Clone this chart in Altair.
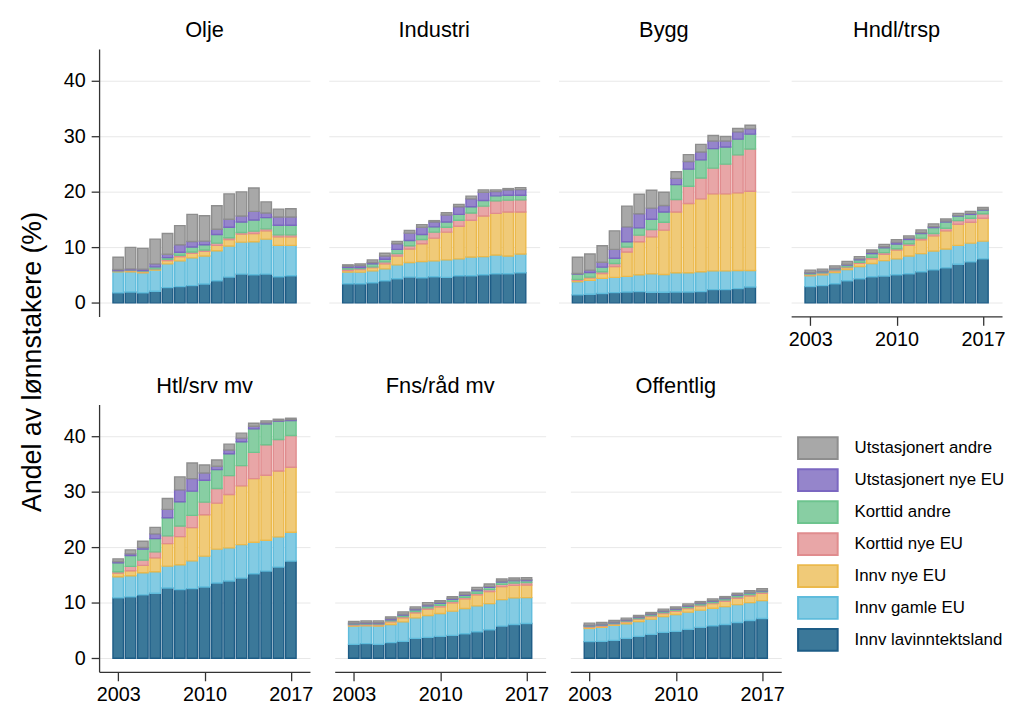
import altair as alt
import pandas as pd

years = list(range(2003, 2018))
series = ["Innv lavinntektsland", "Innv gamle EU", "Innv nye EU", "Korttid nye EU",
          "Korttid andre", "Utstasjonert nye EU", "Utstasjonert andre"]
legend_order = series[::-1]
fill_colors = ["#a8a8a8", "#9585cb", "#88cea3", "#e8a6a7", "#f0ca78", "#83cbe3", "#3b7899"]
stroke_colors = ["#8e8e8e", "#7b67c1", "#6dc48e", "#e08c8e", "#ebb94c", "#5fbcdc", "#1d5c86"]

# Cumulative stack tops (%), bottom layer first
olje = [
    [1.79, 1.96, 1.79, 2.08, 2.74, 2.92, 3.10, 3.39, 3.99, 4.64, 5.18, 5.06, 5.18, 4.70, 4.88],
    [5.60, 5.60, 5.42, 5.89, 7.02, 7.56, 8.10, 8.45, 9.40, 10.24, 10.95, 11.01, 11.49, 10.36, 10.36],
    [5.71, 5.83, 5.65, 6.07, 7.62, 8.33, 8.93, 9.29, 10.36, 11.43, 12.38, 12.50, 12.98, 11.90, 11.90],
    [5.77, 5.89, 5.71, 6.13, 7.86, 8.57, 9.17, 9.52, 10.77, 11.73, 12.68, 12.92, 13.33, 12.26, 12.26],
    [5.83, 5.95, 5.83, 6.49, 8.15, 9.11, 10.06, 10.48, 12.32, 13.63, 14.58, 14.94, 15.36, 13.99, 13.99],
    [6.01, 6.13, 6.07, 7.02, 8.75, 10.48, 11.07, 11.13, 13.27, 15.06, 15.65, 16.49, 16.19, 15.48, 15.48],
    [8.21, 10.00, 9.82, 11.49, 12.50, 13.93, 15.95, 15.71, 17.50, 19.64, 20.00, 20.71, 18.21, 16.90, 16.96],
]
industri = [
    [3.45, 3.45, 3.63, 3.99, 4.35, 4.64, 4.52, 4.70, 4.58, 4.88, 4.88, 5.06, 5.24, 5.24, 5.42],
    [5.54, 5.54, 5.77, 6.13, 6.85, 7.26, 7.44, 7.56, 7.74, 7.92, 8.27, 8.33, 8.63, 8.45, 8.81],
    [5.83, 6.01, 6.37, 7.02, 8.45, 9.70, 10.65, 11.67, 12.74, 13.81, 14.88, 15.65, 16.13, 16.37, 16.37],
    [6.07, 6.19, 6.49, 7.38, 8.87, 10.30, 11.43, 12.74, 13.63, 14.88, 16.19, 17.44, 18.39, 18.51, 18.57],
    [6.37, 6.37, 7.02, 7.86, 9.64, 11.25, 12.32, 13.69, 14.58, 15.95, 17.32, 18.45, 19.29, 19.40, 19.40],
    [6.61, 6.73, 7.26, 8.45, 10.65, 12.56, 13.63, 14.58, 15.83, 17.32, 18.75, 19.94, 20.06, 20.36, 20.42],
    [6.85, 7.02, 7.74, 8.93, 11.07, 13.04, 14.11, 14.82, 16.25, 17.74, 19.23, 20.36, 20.36, 20.60, 20.77],
]
bygg = [
    [1.43, 1.55, 1.67, 1.85, 1.96, 2.02, 1.90, 1.90, 1.96, 1.96, 2.02, 2.38, 2.38, 2.56, 2.86],
    [3.81, 4.05, 4.40, 4.58, 4.76, 5.06, 5.24, 5.12, 5.42, 5.42, 5.60, 5.77, 5.77, 5.83, 5.83],
    [4.05, 4.52, 5.30, 6.55, 9.17, 11.01, 11.90, 13.10, 16.37, 17.92, 18.75, 19.64, 19.64, 19.82, 20.12],
    [4.23, 4.64, 5.60, 7.08, 10.06, 12.20, 13.21, 14.52, 18.63, 21.01, 22.50, 24.29, 25.00, 26.67, 27.74],
    [5.18, 5.48, 6.43, 8.04, 11.01, 13.51, 15.06, 16.37, 21.31, 24.11, 25.77, 27.80, 28.10, 29.52, 30.42],
    [5.30, 5.89, 7.32, 9.64, 13.69, 16.07, 17.08, 17.56, 22.44, 25.48, 27.20, 29.17, 29.17, 30.83, 31.37],
    [8.21, 8.81, 10.30, 12.98, 17.44, 19.58, 20.30, 19.94, 23.63, 26.73, 28.57, 30.18, 30.00, 31.43, 32.02],
]
hndl = [
    [2.92, 3.10, 3.45, 3.99, 4.35, 4.70, 4.82, 5.06, 5.24, 5.60, 5.95, 6.31, 6.96, 7.38, 7.92],
    [4.88, 5.06, 5.48, 6.01, 6.55, 7.08, 7.62, 7.92, 8.45, 8.87, 9.35, 9.70, 10.36, 10.77, 11.13],
    [5.06, 5.30, 5.77, 6.37, 7.14, 7.92, 8.75, 9.52, 10.36, 11.37, 12.08, 12.98, 14.17, 14.52, 15.24],
    [5.18, 5.42, 5.95, 6.49, 7.32, 8.21, 9.05, 9.76, 10.65, 11.67, 12.50, 13.45, 14.82, 15.24, 16.07],
    [5.36, 5.60, 6.13, 6.79, 7.74, 8.87, 9.94, 10.60, 11.43, 12.50, 13.57, 14.58, 15.65, 15.95, 16.73],
    [5.48, 5.71, 6.25, 6.96, 7.92, 9.11, 10.12, 10.95, 11.67, 12.68, 13.75, 14.76, 15.77, 16.13, 16.85],
    [5.89, 6.07, 6.67, 7.44, 8.33, 9.52, 10.54, 11.37, 12.08, 13.15, 14.23, 15.12, 16.13, 16.49, 17.20],
]
htl = [
    [10.88, 11.06, 11.42, 11.72, 12.67, 12.37, 12.55, 12.85, 13.57, 13.93, 14.46, 15.24, 15.72, 16.44, 17.51],
    [14.70, 14.88, 15.42, 15.60, 16.62, 16.86, 17.57, 18.41, 19.67, 19.90, 20.50, 20.92, 21.28, 21.88, 22.71],
    [15.36, 15.78, 16.74, 18.11, 20.68, 21.94, 23.55, 25.88, 27.97, 29.53, 31.08, 32.40, 32.99, 33.77, 34.43],
    [15.60, 16.56, 17.69, 19.19, 22.06, 23.85, 25.76, 28.15, 30.60, 32.94, 34.73, 37.12, 38.49, 39.45, 40.17],
    [17.21, 18.53, 19.67, 21.58, 25.34, 28.21, 30.13, 32.10, 34.01, 36.88, 39.03, 41.36, 42.26, 42.74, 42.86],
    [17.45, 18.83, 19.96, 22.42, 26.84, 30.36, 32.40, 33.41, 34.61, 37.54, 39.69, 41.84, 42.44, 42.86, 43.04],
    [17.93, 19.55, 21.10, 23.61, 28.81, 32.70, 35.21, 34.85, 35.74, 38.61, 40.59, 42.38, 42.80, 43.10, 43.28],
]
fns = [
    [2.51, 2.63, 2.51, 2.81, 3.05, 3.59, 3.77, 3.95, 4.12, 4.42, 4.78, 5.14, 5.80, 6.10, 6.28],
    [5.80, 5.86, 5.80, 6.10, 6.57, 7.29, 7.71, 8.07, 8.49, 8.97, 9.44, 9.86, 10.58, 10.88, 10.94],
    [5.98, 6.04, 6.04, 6.57, 7.29, 8.19, 8.85, 9.26, 9.98, 10.70, 11.42, 12.01, 12.91, 13.15, 13.21],
    [6.10, 6.16, 6.16, 6.75, 7.53, 8.43, 9.09, 9.56, 10.28, 11.00, 11.72, 12.37, 13.33, 13.57, 13.63],
    [6.22, 6.28, 6.28, 6.93, 7.77, 8.73, 9.44, 9.92, 10.64, 11.36, 12.19, 12.79, 13.75, 13.99, 13.99],
    [6.34, 6.40, 6.40, 7.17, 7.95, 8.91, 9.62, 10.10, 10.82, 11.54, 12.37, 12.97, 13.93, 14.11, 14.17],
    [6.63, 6.75, 6.75, 7.47, 8.37, 9.26, 10.04, 10.40, 11.12, 11.90, 12.79, 13.39, 14.29, 14.47, 14.52],
]
offentlig = [
    [2.99, 3.05, 3.23, 3.59, 3.95, 4.30, 4.66, 4.84, 5.20, 5.56, 5.86, 6.10, 6.46, 6.81, 7.17],
    [5.38, 5.56, 5.92, 6.22, 6.63, 7.05, 7.53, 7.89, 8.31, 8.67, 9.03, 9.32, 9.68, 10.04, 10.40],
    [5.62, 5.80, 6.16, 6.57, 7.05, 7.53, 8.07, 8.49, 8.97, 9.44, 9.86, 10.28, 10.82, 11.24, 11.72],
    [5.74, 5.92, 6.28, 6.69, 7.17, 7.71, 8.25, 8.67, 9.15, 9.62, 10.04, 10.52, 11.06, 11.48, 11.96],
    [5.86, 6.04, 6.40, 6.81, 7.35, 7.89, 8.43, 8.85, 9.38, 9.86, 10.28, 10.76, 11.36, 11.78, 12.13],
    [5.98, 6.16, 6.52, 6.93, 7.47, 8.01, 8.55, 8.97, 9.50, 9.98, 10.40, 10.88, 11.48, 11.90, 12.25],
    [6.34, 6.46, 6.81, 7.23, 7.71, 8.25, 8.85, 9.26, 9.80, 10.22, 10.70, 11.12, 11.72, 12.19, 12.55],
]
sectors = [("Olje", olje), ("Industri", industri), ("Bygg", bygg), ("Hndl/trsp", hndl),
           ("Htl/srv mv", htl), ("Fns/råd mv", fns), ("Offentlig", offentlig)]

rows = []
for name, tops in sectors:
    for li, s in enumerate(series):
        for yi, yr in enumerate(years):
            lo = tops[li - 1][yi] if li > 0 else 0.0
            rows.append({"sektor": name, "serie": s, "aar": yr, "lo": lo, "hi": tops[li][yi], "lag": li})
df = pd.DataFrame(rows)

FONT = "Liberation Sans"
xscale = alt.Scale(domain=[2001.45, 2018.55], nice=False, zero=False, padding=0)
yscale = alt.Scale(domain=[-2.45, 45.75], nice=False, zero=False)
fill_scale = alt.Scale(domain=legend_order, range=fill_colors)
stroke_scale = alt.Scale(domain=legend_order, range=stroke_colors)
legend = alt.Legend(title=None, orient="none", legendX=715, legendY=392,
                    symbolType="M-2,-1.1L2,-1.1L2,1.1L-2,1.1Z", symbolSize=400,
                    symbolStrokeWidth=2, labelFontSize=17, labelFont=FONT, labelColor="#000",
                    rowPadding=2.3, labelOffset=26, padding=0)


def panel(name, show_y, show_x):
    if show_y:
        yaxis = alt.Axis(values=[0, 10, 20, 30, 40], title=None, grid=True, tickSize=8,
                         labelPadding=6, domain=True)
    else:
        yaxis = alt.Axis(values=[0, 10, 20, 30, 40], title=None, grid=True, labels=False,
                         ticks=False, domain=False)
    xaxis = alt.Axis(values=[2003, 2010, 2017], format="d", title=None, grid=False,
                     tickSize=9, labelPadding=4) if show_x else None
    return alt.Chart(df[df.sektor == name], title=alt.TitleParams(name)).mark_bar(
        width=10.6, strokeWidth=1.4
    ).encode(
        x=alt.X("aar:Q", scale=xscale, axis=xaxis),
        y=alt.Y("hi:Q", scale=yscale, axis=yaxis),
        y2="lo:Q",
        fill=alt.Fill("serie:N", scale=fill_scale, legend=legend),
        stroke=alt.Stroke("serie:N", scale=stroke_scale, legend=legend),
        order=alt.Order("lag:Q"),
    ).properties(width=213, height=270)


top = alt.hconcat(
    panel("Olje", True, False),
    panel("Industri", False, False),
    panel("Bygg", False, False),
    panel("Hndl/trsp", False, True),
    spacing=19,
)
bottom = alt.hconcat(
    panel("Htl/srv mv", True, True),
    panel("Fns/råd mv", False, True),
    panel("Offentlig", False, True),
    spacing=19,
)

chart = alt.vconcat(top, bottom, spacing=26).properties(
    title=alt.TitleParams("Andel av lønnstakere (%)", orient="left", anchor="middle",
                          fontSize=27, font=FONT, fontWeight="normal", color="#000", offset=16),
    padding={"left": 11, "top": 8, "right": 0, "bottom": 0},
).configure_view(stroke=None).configure_axis(
    labelFont=FONT, labelFontSize=20, labelColor="#000", tickColor="#333", domainColor="#333",
    tickWidth=1.3, domainWidth=1.3, gridColor="#e8e8e8", gridWidth=1,
).configure_title(
    font=FONT, fontSize=22, fontWeight="normal", color="#000", offset=7
)

chart.save("out.html", embed_options={"renderer": "svg", "actions": False})
